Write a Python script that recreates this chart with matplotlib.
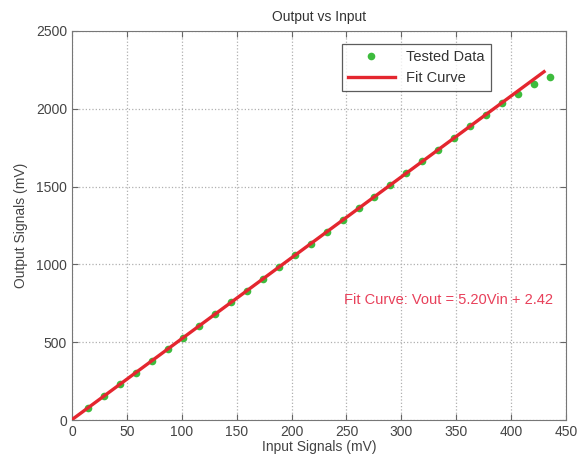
import matplotlib
matplotlib.use("Agg")
import matplotlib.pyplot as plt
import numpy as np

plt.rcParams['font.family'] = ['Liberation Sans', 'DejaVu Sans']

# Tested data
input_mv = [14.5, 29, 43.5, 58, 72.5, 87, 101.5, 116, 130.5, 145,
            159.5, 174, 188.5, 203, 217.5, 232, 246.5, 261, 275.5, 290,
            304.5, 319, 333.5, 348, 362.5, 377, 391.5, 406, 420.5, 435]
output_mv = [78, 153, 229, 304, 380, 455, 530, 605, 682, 757,
             832, 907, 983, 1058, 1133, 1208, 1285, 1360, 1435, 1510,
             1585, 1662, 1737, 1812, 1887, 1963, 2038, 2098, 2158, 2206]

# Fit curve: Vout = 5.20 Vin + 2.42
fit_slope = 5.20
fit_intercept = 2.42
fit_range = [0, 430]

xticks = [0, 50, 100, 150, 200, 250, 300, 350, 400, 450]
yticks = [0, 500, 1000, 1500, 2000, 2500]

fig = plt.figure(figsize=(5.79, 4.62), dpi=100)
ax = fig.add_axes([72/579, 42/462, 494/579, 389/462])

fx = np.array(fit_range, dtype=float)
ax.plot(input_mv, output_mv, 'o', color='#3dbb3d', markersize=5.5, markeredgewidth=0,
        label='Tested Data', zorder=3)
ax.plot(fx, fit_slope * fx + fit_intercept, '-', color='#e4262f', linewidth=2.4,
        label='Fit Curve', zorder=4)

ax.set_xlim(0, 450)
ax.set_ylim(0, 2500)
ax.set_xticks(xticks)
ax.set_yticks(yticks)
ax.tick_params(direction='in', top=True, right=True, labelsize=10,
               labelcolor='#444444', color='#666666', length=4)
ax.grid(True, linestyle=':', color='#b0b0b0', linewidth=0.9)
for s in ax.spines.values():
    s.set_color('#777777')

ax.set_xlabel('Input Signals (mV)', fontsize=10, color='#444444', labelpad=1)
ax.set_ylabel('Output Signals (mV)', fontsize=10, color='#444444', labelpad=6)
ax.set_title('Output vs Input', fontsize=10, color='#333333', pad=7)

leg = ax.legend(loc='upper right', bbox_to_anchor=(0.862, 0.985), fontsize=10.5,
                frameon=True, fancybox=False, edgecolor='#333333',
                handlelength=3.2, borderpad=0.4, labelspacing=0.5)
leg.get_frame().set_linewidth(0.9)
for t in leg.get_texts():
    t.set_color('#333333')

ax.text(343, 771, 'Fit Curve: Vout = 5.20Vin + 2.42', color='#e8405a',
        fontsize=10.5, ha='center', va='center')

fig.savefig('out.png', dpi=100)
